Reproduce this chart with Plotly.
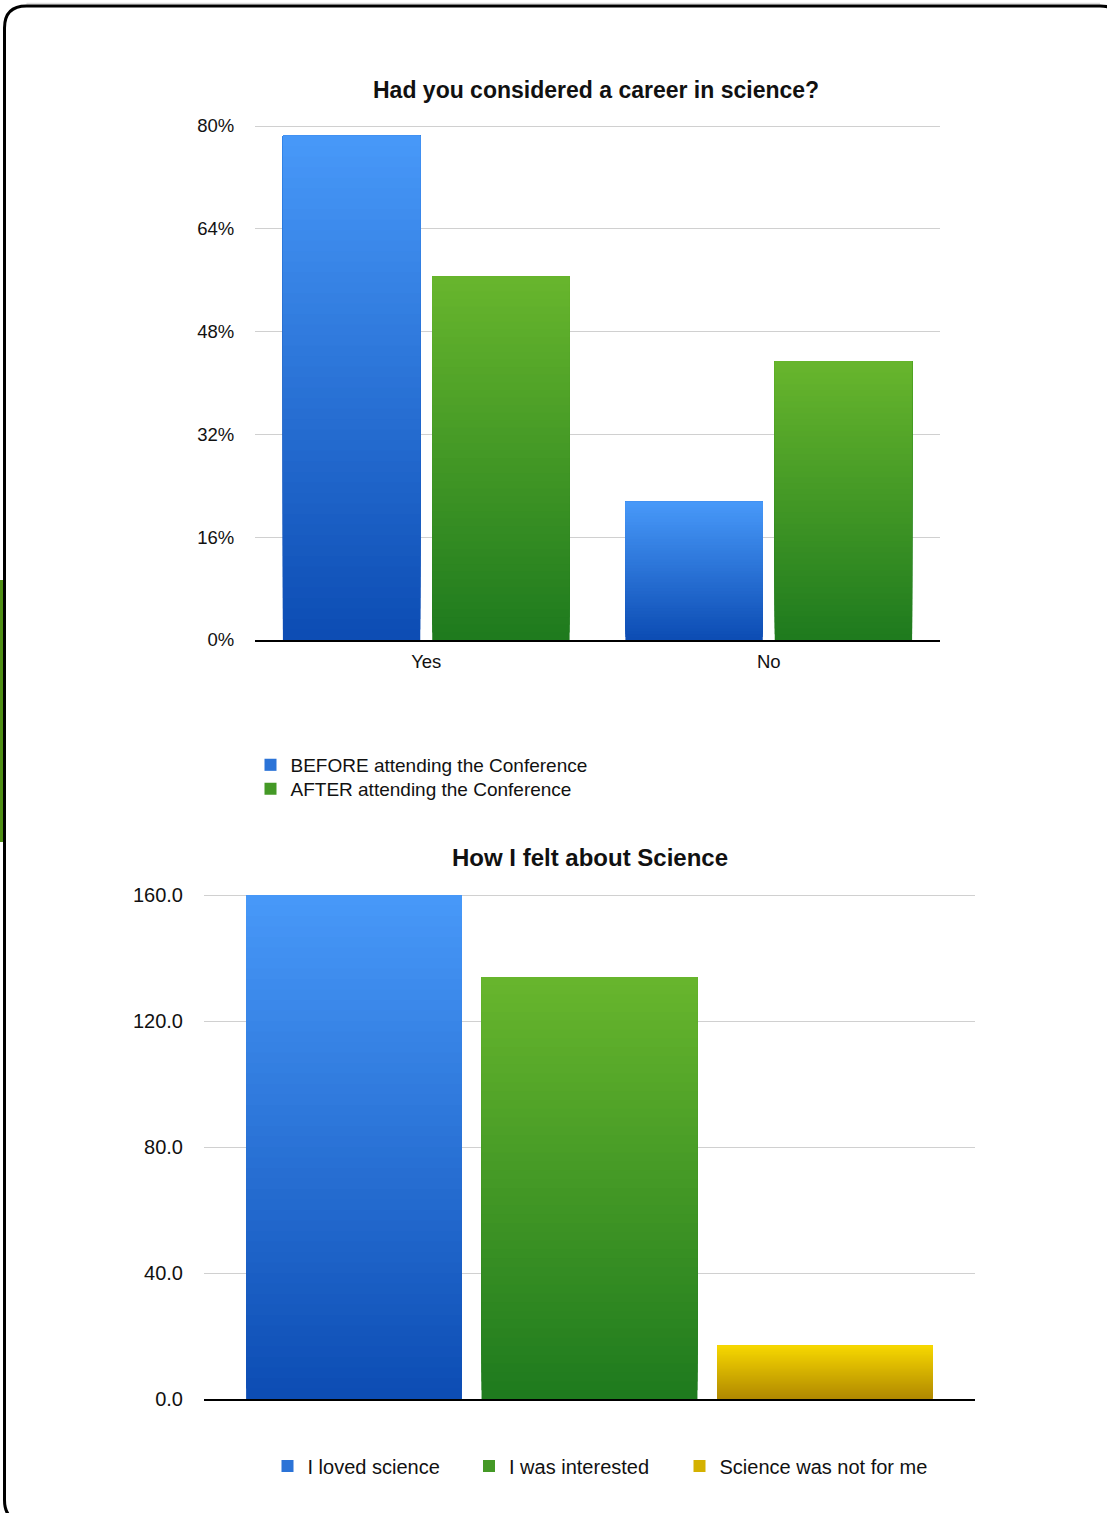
import plotly.graph_objects as go

W, H = 1107, 1513

# ---------------- data ----------------
career_categories = ["Yes", "No"]
career_series = ["BEFORE attending the Conference", "AFTER attending the Conference"]
career_before = [78.5, 21.5]
career_after = [56.6, 43.4]
career_ticks = [0, 16, 32, 48, 64, 80]

feel_series = ["I loved science", "I was interested", "Science was not for me"]
feel_values = [160, 134, 17]
feel_ticks = [0, 40, 80, 120, 160]

# ---------------- styles ----------------
FONT = "Liberation Sans, Arial, Helvetica, sans-serif"
BLUE = ("#0c4cb3", "#4899f9")     # (bottom, top)
GREEN = ("#1e7a1e", "#68b62d")
YELLOW = ("#b08800", "#f7d800")
NSEG = 48
TXT = "#111111"


def px_x(p):
    return p / W


def px_y(p):
    return 1 - p / H


def hex2rgb(h):
    h = h.lstrip("#")
    return tuple(int(h[i:i + 2], 16) for i in (0, 2, 4))


def lerp_color(c0, c1, t):
    a, b = hex2rgb(c0), hex2rgb(c1)
    return "rgb(%d,%d,%d)" % tuple(round(a[i] + (b[i] - a[i]) * t) for i in range(3))


def add_gradient_bars(fig, x, values, name, colors, width, offset, xa, ya, legend):
    """Bars drawn from the values, shaded with a vertical gradient built from
    overlaid bar traces (each covers [v*k/N, v])."""
    for k in range(NSEG):
        t = (k + 0.5) / NSEG
        col = lerp_color(colors[0], colors[1], t)
        fig.add_trace(go.Bar(
            x=x,
            y=[v * (1 - k / NSEG) for v in values],
            base=[v * k / NSEG for v in values],
            name=name,
            marker=dict(color=col, line=dict(width=0)),
            width=width,
            offset=offset,
            xaxis=xa, yaxis=ya,
            legend=legend,
            legendgroup=name,
            showlegend=(k == NSEG // 2),
            hoverinfo="skip" if k else None,
        ))


fig = go.Figure()

# ---- chart 1 ----
w1, g1 = 0.401, 0.035
off1 = -(2 * w1 + g1) / 2
add_gradient_bars(fig, career_categories, career_before, career_series[0], BLUE,
                  w1, off1, "x", "y", "legend")
add_gradient_bars(fig, career_categories, career_after, career_series[1], GREEN,
                  w1, off1 + w1 + g1, "x", "y", "legend2")

# ---- chart 2 ----
w2, s2 = 0.280, 0.3054
off2 = -1.5 * s2 + (s2 - w2) / 2
for i, (nm, val, col) in enumerate(zip(feel_series, feel_values, [BLUE, GREEN, YELLOW])):
    add_gradient_bars(fig, [0], [val], nm, col, w2, off2 + i * s2, "x2", "y2",
                      "legend%d" % (i + 3))

axis_font = dict(family=FONT, size=18.5, color=TXT)
axis_font2 = dict(family=FONT, size=20, color=TXT)

# slight headroom so the top grid line is drawn inside the plot area
Y1_MAX, Y2_MAX = 80.4, 160.8
y1_top = 640 - (640 - 126) * Y1_MAX / 80
y2_top = 1399 - (1399 - 895) * Y2_MAX / 160


def legend_at(cx, cy, size):
    return dict(x=px_x(cx - 20), y=px_y(cy), xanchor="left", yanchor="middle",
                orientation="v", font=dict(family=FONT, size=size, color=TXT),
                bgcolor="rgba(0,0,0,0)", itemclick=False, itemdoubleclick=False)


fig.update_layout(
    width=W, height=H,
    margin=dict(l=0, r=0, t=0, b=0),
    paper_bgcolor="white", plot_bgcolor="white",
    barmode="overlay",
    font=dict(family=FONT, color=TXT),
    xaxis=dict(
        domain=[px_x(255), px_x(940)], anchor="y",
        type="category", categoryorder="array", categoryarray=career_categories,
        range=[-0.5, 1.5],
        showline=True, linecolor="black", linewidth=2,
        showgrid=False, ticks="outside", ticklen=4, tickcolor="rgba(0,0,0,0)",
        tickfont=axis_font, automargin=False, fixedrange=True,
    ),
    yaxis=dict(
        domain=[px_y(640), px_y(y1_top)], anchor="x",
        range=[0, Y1_MAX], tickmode="array", tickvals=career_ticks,
        ticktext=["%d%%" % v for v in career_ticks],
        showgrid=True, gridcolor="#d0d0d0", gridwidth=1,
        zeroline=False, showline=False,
        ticks="outside", ticklen=16, tickcolor="rgba(0,0,0,0)",
        tickfont=axis_font, automargin=False, fixedrange=True,
    ),
    xaxis2=dict(
        domain=[px_x(204), px_x(975)], anchor="y2",
        range=[-0.5, 0.5], showticklabels=False,
        showline=True, linecolor="black", linewidth=2,
        showgrid=False, zeroline=False, automargin=False, fixedrange=True,
    ),
    yaxis2=dict(
        domain=[px_y(1399), px_y(y2_top)], anchor="x2",
        range=[0, Y2_MAX], tickmode="array", tickvals=feel_ticks,
        ticktext=["%.1f" % v for v in feel_ticks],
        showgrid=True, gridcolor="#d0d0d0", gridwidth=1,
        zeroline=False, showline=False,
        ticks="outside", ticklen=16, tickcolor="rgba(0,0,0,0)",
        tickfont=axis_font2, automargin=False, fixedrange=True,
    ),
    legend=legend_at(270.5, 765, 19),
    legend2=legend_at(270.5, 789, 19),
    legend3=legend_at(287.5, 1466, 20),
    legend4=legend_at(489, 1466, 20),
    legend5=legend_at(699.5, 1466, 20),
    showlegend=True,
)

fig.add_annotation(text="<b>Had you considered a career in science?</b>",
                   x=px_x(596), y=px_y(90), xref="paper", yref="paper",
                   xanchor="center", yanchor="middle", showarrow=False,
                   font=dict(family=FONT, size=23, color=TXT))
fig.add_annotation(text="<b>How I felt about Science</b>",
                   x=px_x(590), y=px_y(857), xref="paper", yref="paper",
                   xanchor="center", yanchor="middle", showarrow=False,
                   font=dict(family=FONT, size=24, color=TXT))

# ---- decorative frame ----
x0, y0, x1, y1, r = 4.5, 6, 1122, 1522, 22
path = (f"M {px_x(x0)},{px_y(y0 + r)} "
        f"Q {px_x(x0)},{px_y(y0)} {px_x(x0 + r)},{px_y(y0)} "
        f"L {px_x(x1 - r)},{px_y(y0)} "
        f"Q {px_x(x1)},{px_y(y0)} {px_x(x1)},{px_y(y0 + r)} "
        f"L {px_x(x1)},{px_y(y1 - r)} "
        f"Q {px_x(x1)},{px_y(y1)} {px_x(x1 - r)},{px_y(y1)} "
        f"L {px_x(x0 + r)},{px_y(y1)} "
        f"Q {px_x(x0)},{px_y(y1)} {px_x(x0)},{px_y(y1 - r)} Z")
fig.add_shape(type="line", xref="paper", yref="paper",
              x0=px_x(x0 + r), x1=px_x(x1 - r), y0=px_y(3.5), y1=px_y(3.5),
              line=dict(color="#dddddd", width=1.5), layer="below")
fig.add_shape(type="rect", xref="paper", yref="paper",
              x0=0, x1=px_x(3.5), y0=px_y(842), y1=px_y(580),
              fillcolor="#4f8f14", line=dict(width=0), layer="below")
fig.add_shape(type="path", path=path, xref="paper", yref="paper",
              line=dict(color="black", width=3), fillcolor="rgba(0,0,0,0)")

fig.write_html("out.html",
               config={"displayModeBar": False},
               post_script="document.body.style.margin='0';document.body.style.overflow='hidden';")
